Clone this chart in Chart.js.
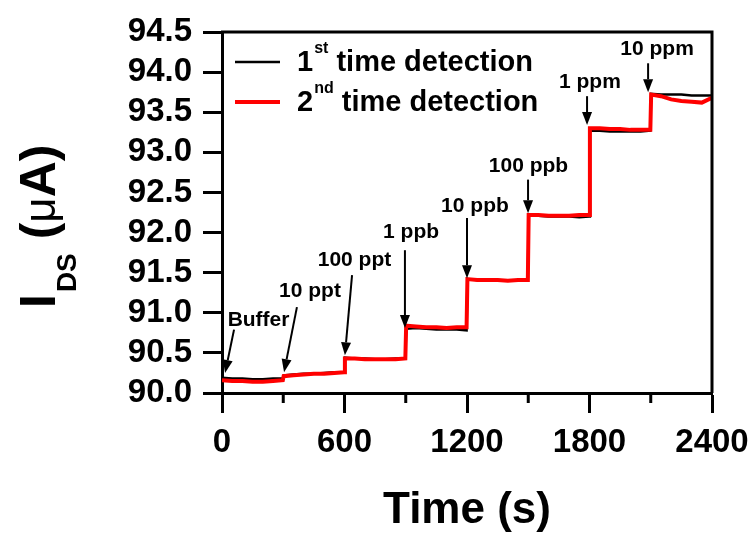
<!DOCTYPE html>
<html>
<head>
<meta charset="utf-8">
<script src="https://cdn.jsdelivr.net/npm/chart.js@4.4.1/dist/chart.umd.min.js"></script>
<style>
body{ margin:0; background:#fff; }
canvas{ display:block; }
</style>
</head>
<body>
<canvas id="idsChart" width="755" height="533"></canvas>
<script>
/* ===============================
   DATA
=============================== */

const timeSec = [
0,50,100,150,200,250,298,
302,350,400,450,500,550,598,
602,650,700,750,800,850,898,
902,950,1000,1050,1100,1150,1198,
1202,1250,1300,1350,1400,1450,1498,
1502,1550,1600,1650,1700,1750,1798,
1802,1850,1900,1950,2000,2050,2098,
2102,2150,2200,2250,2300,2350,2400
];

const firstRun = [
90.19,90.18,90.18,90.17,90.17,90.18,90.18,
90.22,90.23,90.24,90.24,90.25,90.26,90.26,
90.44,90.43,90.43,90.42,90.42,90.43,90.43,
90.80,90.81,90.80,90.79,90.79,90.79,90.78,
91.42,91.41,91.41,91.41,91.40,91.40,91.40,
92.21,92.21,92.20,92.20,92.20,92.19,92.20,
93.27,93.27,93.26,93.26,93.26,93.26,93.27,
93.73,93.72,93.72,93.72,93.71,93.71,93.71
];

const secondRun = [
90.16,90.15,90.15,90.14,90.14,90.15,90.16,
90.21,90.22,90.23,90.24,90.24,90.25,90.26,
90.43,90.43,90.42,90.42,90.42,90.42,90.43,
90.84,90.83,90.82,90.82,90.81,90.82,90.82,
91.42,91.41,91.41,91.41,91.40,91.41,91.41,
92.22,92.22,92.21,92.21,92.21,92.22,92.22,
93.30,93.30,93.29,93.29,93.28,93.28,93.28,
93.72,93.70,93.66,93.64,93.63,93.62,93.68
];

const xTicks = [0,600,1200,1800,2400];
const xMinorTicks = [300,900,1500,2100];
const yTicks = [90.0,90.5,91.0,91.5,92.0,92.5,93.0,93.5,94.0,94.5];

// concentration marks (arrow tip, arrow tail, label centre in data units)
const concLabels = ["Buffer","10 ppt","100 ppt","1 ppb","10 ppb","100 ppb","1 ppm","10 ppm"];
const arrowTipX  = [15,304,602,896,1200,1499,1788,2087];
const arrowTipY  = [90.25,90.26,90.47,90.81,91.43,92.24,93.34,93.75];
const arrowTailX = [59,367,637,896,1200,1499,1788,2087];
const arrowTailY = [90.79,91.07,91.47,91.78,92.18,92.66,93.70,94.11];
const labelX     = [179,431,649,926,1239,1501,1802,2131];
const labelY     = [90.91,91.27,91.66,92.01,92.33,92.83,93.88,94.29];

const FONT = "'Liberation Sans', Arial, sans-serif";

/* ===============================
   PLUGINS
=============================== */

const framePlugin = {
id:"frame",
afterDraw(chart){
const ctx = chart.ctx;
const a = chart.chartArea;
const xs = chart.scales.x;
ctx.save();
ctx.strokeStyle = "#000";
ctx.lineWidth = 3;
ctx.beginPath();
ctx.moveTo(a.left-1, a.top);
ctx.lineTo(a.right, a.top);
ctx.lineTo(a.right, a.bottom);
ctx.stroke();
// minor ticks
xMinorTicks.forEach(v=>{
const px = xs.getPixelForValue(v);
ctx.beginPath();
ctx.moveTo(px, a.bottom);
ctx.lineTo(px, a.bottom+10);
ctx.stroke();
});
ctx.restore();
}
};

function drawArrow(ctx,x1,y1,x2,y2){
const ang = Math.atan2(y2-y1,x2-x1);
const head = 13, half = 5;
const bx = x2 - head*Math.cos(ang);
const by = y2 - head*Math.sin(ang);
ctx.beginPath();
ctx.moveTo(x1,y1);
ctx.lineTo(bx,by);
ctx.stroke();
ctx.beginPath();
ctx.moveTo(x2,y2);
ctx.lineTo(bx + half*Math.sin(ang), by - half*Math.cos(ang));
ctx.lineTo(bx - half*Math.sin(ang), by + half*Math.cos(ang));
ctx.closePath();
ctx.fill();
}

const annotatePlugin = {
id:"annotate",
afterDatasetsDraw(chart){
const ctx = chart.ctx;
const xs = chart.scales.x, ys = chart.scales.y;
ctx.save();
ctx.strokeStyle = "#000";
ctx.fillStyle = "#000";
ctx.lineWidth = 2;
ctx.font = "bold 21px " + FONT;
ctx.textAlign = "center";
ctx.textBaseline = "middle";
concLabels.forEach((lab,i)=>{
drawArrow(ctx,
xs.getPixelForValue(arrowTailX[i]), ys.getPixelForValue(arrowTailY[i]),
xs.getPixelForValue(arrowTipX[i]), ys.getPixelForValue(arrowTipY[i]));
ctx.fillText(lab, xs.getPixelForValue(labelX[i]), ys.getPixelForValue(labelY[i]));
});
ctx.restore();
}
};

const legendPlugin = {
id:"customLegend",
afterDraw(chart){
const ctx = chart.ctx;
const a = chart.chartArea;
const rows = [
{num:"1", sup:"st", color:"#000", width:2.5, y:a.top+30},
{num:"2", sup:"nd", color:"#ff0000", width:4, y:a.top+70}
];
ctx.save();
ctx.textBaseline = "alphabetic";
ctx.textAlign = "left";
rows.forEach(r=>{
ctx.strokeStyle = r.color;
ctx.lineWidth = r.width;
ctx.beginPath();
ctx.moveTo(a.left+13, r.y);
ctx.lineTo(a.left+58, r.y);
ctx.stroke();
ctx.fillStyle = "#000";
let x = a.left+75;
ctx.font = "bold 29px " + FONT;
ctx.fillText(r.num, x, r.y+9);
x += ctx.measureText(r.num).width + 1;
ctx.font = "bold 16px " + FONT;
ctx.fillText(r.sup, x, r.y-9);
x += ctx.measureText(r.sup).width;
ctx.font = "bold 29px " + FONT;
ctx.fillText(" time detection", x, r.y+9);
});
ctx.restore();
}
};

const yTitlePlugin = {
id:"yTitle",
afterDraw(chart){
const ctx = chart.ctx;
ctx.save();
ctx.translate(55, 308);
ctx.rotate(-Math.PI/2);
ctx.fillStyle = "#000";
ctx.textAlign = "left";
ctx.textBaseline = "alphabetic";
let x = 0;
ctx.font = "bold 50px " + FONT;
ctx.fillText("I", x, 0);
x += ctx.measureText("I").width + 2;
ctx.font = "bold 28px " + FONT;
ctx.fillText("DS", x, 21);
x += ctx.measureText("DS").width;
ctx.font = "bold 50px " + FONT;
ctx.fillText(" (", x, 0);
x += ctx.measureText(" (").width;
ctx.font = "44px " + FONT;
ctx.fillText("\u03bc", x, 0);
x += ctx.measureText("\u03bc").width;
ctx.font = "bold 50px " + FONT;
ctx.fillText("A)", x, 0);
ctx.restore();
}
};

/* ===============================
   CHART
=============================== */

new Chart(document.getElementById("idsChart"),{
type:"line",
data:{
datasets:[
{
label:"1st time detection",
data: timeSec.map((t,i)=>({x:t, y:firstRun[i]})),
borderColor:"#000",
borderWidth:2.5,
pointRadius:0,
order:2
},
{
label:"2nd time detection",
data: timeSec.map((t,i)=>({x:t, y:secondRun[i]})),
borderColor:"#ff0000",
borderWidth:4,
pointRadius:0,
order:1
}
]
},
options:{
responsive:false,
animation:false,
devicePixelRatio:1,
layout:{ padding:{ top:32, right:43, left:0, bottom:0 } },
plugins:{
legend:{ display:false },
tooltip:{ enabled:false }
},
scales:{
x:{
type:"linear",
min:0, max:2400,
afterBuildTicks(s){ s.ticks = xTicks.map(v=>({value:v})); },
afterFit(s){ s.height = 140; s.paddingRight = 0; s.paddingLeft = 0; },
grid:{ drawOnChartArea:false, tickLength:20, tickWidth:3, tickColor:"#000" },
border:{ color:"#000", width:3 },
ticks:{ color:"#000", padding:10, autoSkip:false, maxRotation:0,
font:{ family:FONT, size:33, weight:"bold" },
callback:v=>String(v) },
title:{ display:true, text:"Time (s)", color:"#000", padding:{top:0,bottom:0},
font:{ family:FONT, size:44, weight:"bold", lineHeight:1 } }
},
y:{
type:"linear",
min:90, max:94.5,
afterBuildTicks(s){ s.ticks = yTicks.map(v=>({value:v})); },
afterFit(s){ s.width = 222; s.paddingTop = 0; s.paddingBottom = 0; },
grid:{ drawOnChartArea:false, tickLength:19, tickWidth:3, tickColor:"#000" },
border:{ color:"#000", width:3 },
ticks:{ color:"#000", padding:11, autoSkip:false,
font:{ family:FONT, size:33, weight:"bold" },
callback:v=>Number(v).toFixed(1) }
}
}
},
plugins:[framePlugin, annotatePlugin, legendPlugin, yTitlePlugin]
});
</script>
</body>
</html>
